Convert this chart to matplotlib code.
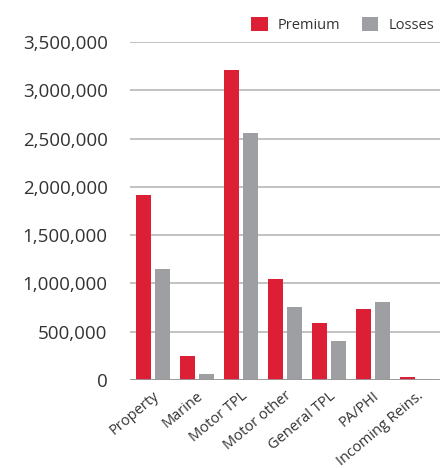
import numpy as np
import matplotlib.pyplot as plt
from matplotlib.ticker import FuncFormatter

categories = ["Property", "Marine", "Motor TPL", "Motor other",
              "General TPL", "PA/PHI", "Incoming Reins."]
premium = [1915000, 248000, 3209000, 1045000, 590000, 735000, 31000]
losses = [1149000, 62000, 2557000, 756000, 404000, 807000, 10000]

RED = "#dc1f35"
GREY = "#9d9fa2"

plt.rcParams["font.family"] = ["Open Sans", "DejaVu Sans"]

fig = plt.figure(figsize=(4.43, 4.68), dpi=100)
ax = fig.add_axes([0.293, 0.188, 0.700, 0.722])

x = np.arange(len(categories))
w = 0.34
off = 0.215
ax.bar(x - off, premium, w, color=RED, label="Premium", zorder=3)
ax.bar(x + off, losses, w, color=GREY, label="Losses", zorder=3)

ax.set_ylim(0, 3500000)
ax.set_xlim(-0.52, 6.52)
ax.set_yticks(np.arange(0, 3500001, 500000))
ax.yaxis.set_major_formatter(FuncFormatter(lambda v, p: f"{int(v):,}"))
ax.grid(axis="y", color="#b8b8b8", linewidth=1.2, zorder=0)
ax.axhline(0, color="#999999", linewidth=2, zorder=4)

for s in ax.spines.values():
    s.set_visible(False)
ax.tick_params(axis="both", length=0, colors="#333333")
ax.tick_params(axis="y", labelsize=13.5, pad=16)
ax.set_xticks(x)
ax.set_xticklabels(categories, rotation=40, ha="right",
                   rotation_mode="anchor", fontsize=10.5)
ax.tick_params(axis="x", pad=6)

ax.legend(loc="lower right", bbox_to_anchor=(1.01, 1.0), ncol=2, frameon=False,
          fontsize=10.5, handlelength=1.1, handleheight=1.1, columnspacing=1.5,
          handletextpad=0.7, borderaxespad=0.2, labelcolor="#333333")

fig.savefig("out.png", dpi=100)
